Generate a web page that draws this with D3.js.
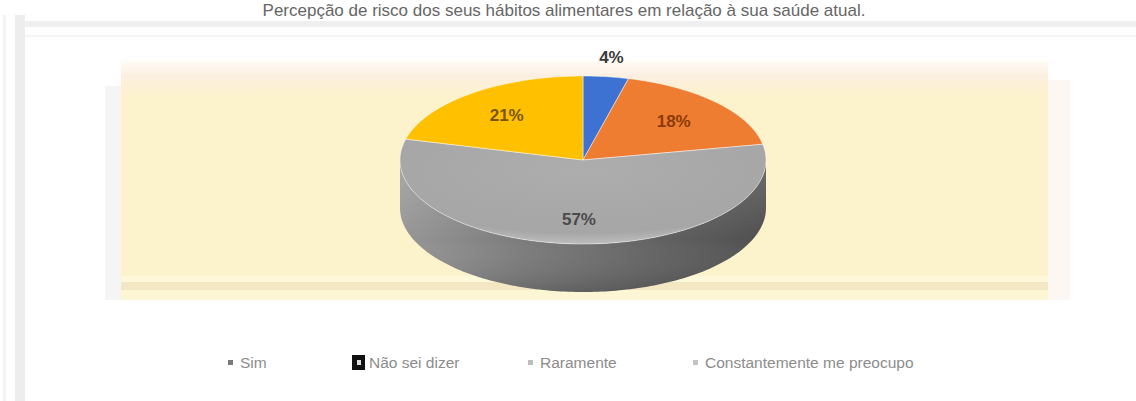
<!DOCTYPE html>
<html>
<head>
<meta charset="utf-8">
<script src="https://cdn.jsdelivr.net/npm/d3@7"></script>
<style>
  html, body { margin: 0; padding: 0; background: #fff; }
  svg { display: block; }
</style>
</head>
<body>
<svg id="chart" width="1136" height="401"></svg>
<script>
// Chart data
const title = "Percepção de risco dos seus hábitos alimentares em relação à sua saúde atual.";
const categories = ["Sim", "Não sei dizer", "Raramente", "Constantemente me preocupo"];
const values = [4, 18, 57, 21];
const sliceColors = ["#3d72d3", "#ee7d31", "#a9a9a9", "#ffc000"];
const labelColors = ["#3a3a3a", "#8a3a06", "#4a4a4a", "#7a5400"];

const W = 1136, H = 401;
const svg = d3.select("#chart");
const defs = svg.append("defs");

// Frame lines of the surrounding panel
svg.append("rect").attr("x", 3).attr("y", 15).attr("width", 3).attr("height", H - 15).attr("fill", "#f4f4f4");
svg.append("rect").attr("x", 15).attr("y", 15).attr("width", 10).attr("height", H - 15).attr("fill", "#ededed");
svg.append("rect").attr("x", 25).attr("y", 21).attr("width", W - 25).attr("height", 6).attr("fill", "#efefef");
svg.append("rect").attr("x", 25).attr("y", 35).attr("width", W - 25).attr("height", 2).attr("fill", "#f5f5f5");

// Title
svg.append("text")
  .attr("x", 564).attr("y", 16)
  .attr("text-anchor", "middle")
  .attr("font-family", "Liberation Sans, Arial, sans-serif")
  .attr("font-size", 17)
  .attr("fill", "#666")
  .text(title);

// Plot area background
const plot = { x: 121, y: 60, w: 927, h: 240 };
const topGrad = defs.append("linearGradient").attr("id", "plotTop").attr("x1", 0).attr("x2", 0).attr("y1", 0).attr("y2", 1);
topGrad.append("stop").attr("offset", "0%").attr("stop-color", "#fffdf8");
topGrad.append("stop").attr("offset", "45%").attr("stop-color", "#fcefe0");
topGrad.append("stop").attr("offset", "100%").attr("stop-color", "#fcf2cc");
svg.append("rect").attr("x", plot.x - 16).attr("y", 86).attr("width", 16).attr("height", plot.y + plot.h - 86).attr("fill", "#f5f5f5");
svg.append("rect").attr("x", plot.x).attr("y", plot.y).attr("width", plot.w).attr("height", plot.h).attr("fill", "#fcf2cc");
svg.append("rect").attr("x", plot.x).attr("y", plot.y).attr("width", plot.w).attr("height", 36).attr("fill", "url(#plotTop)");
svg.append("rect").attr("x", plot.x + plot.w).attr("y", plot.y + 20).attr("width", 22).attr("height", plot.h - 20).attr("fill", "#fdf7f4");
svg.append("rect").attr("x", plot.x).attr("y", 276).attr("width", plot.w).attr("height", 6).attr("fill", "#fef8da");
svg.append("rect").attr("x", plot.x).attr("y", 282).attr("width", plot.w).attr("height", 8).attr("fill", "#f3e8c3");
svg.append("rect").attr("x", plot.x).attr("y", 290).attr("width", plot.w).attr("height", 10).attr("fill", "#fdf6d4");

// 3D pie geometry
const cx = 583, cy = 160, rx = 183, ry = 84, depth = 48;
const px = (a, k = 1) => cx + rx * k * Math.sin(a);
const py = (a, k = 1, z = 0) => cy - ry * k * Math.cos(a) + z;

const arcs = d3.pie().sort(null).value(d => d)(values);

function arcPoints(a0, a1, z) {
  const n = Math.max(2, Math.ceil((a1 - a0) / 0.02));
  return d3.range(n + 1).map(i => {
    const a = a0 + (a1 - a0) * i / n;
    return [px(a), py(a, 1, z)];
  });
}

// Side shading
const sideGrad = defs.append("linearGradient").attr("id", "side").attr("x1", 0).attr("x2", 1).attr("y1", 0).attr("y2", 0);
sideGrad.append("stop").attr("offset", "0%").attr("stop-color", "#979797");
sideGrad.append("stop").attr("offset", "35%").attr("stop-color", "#7a7a7a");
sideGrad.append("stop").attr("offset", "70%").attr("stop-color", "#626262");
sideGrad.append("stop").attr("offset", "100%").attr("stop-color", "#4f4f4f");
const sideShade = defs.append("linearGradient").attr("id", "sideShade").attr("x1", 0).attr("x2", 0).attr("y1", 0).attr("y2", 1);
sideShade.append("stop").attr("offset", "0%").attr("stop-color", "#fff").attr("stop-opacity", 0.18);
sideShade.append("stop").attr("offset", "60%").attr("stop-color", "#fff").attr("stop-opacity", 0);
sideShade.append("stop").attr("offset", "100%").attr("stop-color", "#000").attr("stop-opacity", 0.15);

const line = d3.line();
const sides = svg.append("g");
arcs.forEach((d, i) => {
  const s = Math.max(d.startAngle, Math.PI / 2);
  const e = Math.min(d.endAngle, 3 * Math.PI / 2);
  if (e <= s) return;
  const pts = arcPoints(s, e, 0).concat(arcPoints(s, e, depth).reverse());
  const fill = i === 2 ? "url(#side)" : d3.color(sliceColors[i]).darker(0.9);
  sides.append("path").attr("d", line(pts) + "Z").attr("fill", fill);
  sides.append("path").attr("d", line(pts) + "Z").attr("fill", "url(#sideShade)");
});

// Top faces
const topGradGray = defs.append("radialGradient").attr("id", "grayTop").attr("cx", "50%").attr("cy", "30%").attr("r", "70%");
topGradGray.append("stop").attr("offset", "0%").attr("stop-color", "#adadad");
topGradGray.append("stop").attr("offset", "85%").attr("stop-color", "#a6a6a6");
topGradGray.append("stop").attr("offset", "100%").attr("stop-color", "#bdbdbd");

const tops = svg.append("g");
arcs.forEach((d, i) => {
  const pts = [[cx, cy]].concat(arcPoints(d.startAngle, d.endAngle, 0));
  tops.append("path")
    .attr("d", line(pts) + "Z")
    .attr("fill", i === 2 ? "url(#grayTop)" : sliceColors[i])
    .attr("stroke", "#ffffff").attr("stroke-opacity", 0.45).attr("stroke-width", 1);
});

// Data labels
const labels = svg.append("g")
  .attr("font-family", "Liberation Sans, Arial, sans-serif")
  .attr("font-weight", "bold")
  .attr("font-size", 17)
  .attr("text-anchor", "middle");
arcs.forEach((d, i) => {
  const mid = (d.startAngle + d.endAngle) / 2;
  const k = d.value < 8 ? 1.24 : (d.value > 50 ? 0.7 : 0.68);
  labels.append("text")
    .attr("x", px(mid, k))
    .attr("y", py(mid, k) + 6)
    .attr("fill", labelColors[i])
    .text(d.value + "%");
});

// Legend
const legend = svg.append("g")
  .attr("font-family", "Liberation Sans, Arial, sans-serif")
  .attr("font-size", 15.5)
  .attr("fill", "#8c8c8c");
const legendX = [228, 352, 528, 693];
const markerFill = ["#7a7a7a", "#111", "#bdbdbd", "#c4c4c4"];
categories.forEach((c, i) => {
  const g = legend.append("g").attr("transform", `translate(${legendX[i]},363)`);
  if (i === 1) {
    g.append("rect").attr("x", 0).attr("y", -8).attr("width", 13).attr("height", 15).attr("fill", markerFill[i]);
    g.append("rect").attr("x", 5).attr("y", -3).attr("width", 4).attr("height", 5).attr("fill", "#ddd");
  } else {
    g.append("rect").attr("x", 0).attr("y", -3).attr("width", 5).attr("height", 5).attr("fill", markerFill[i]);
  }
  g.append("text").attr("x", i === 1 ? 17 : 12).attr("y", 5).text(c);
});
</script>
</body>
</html>
